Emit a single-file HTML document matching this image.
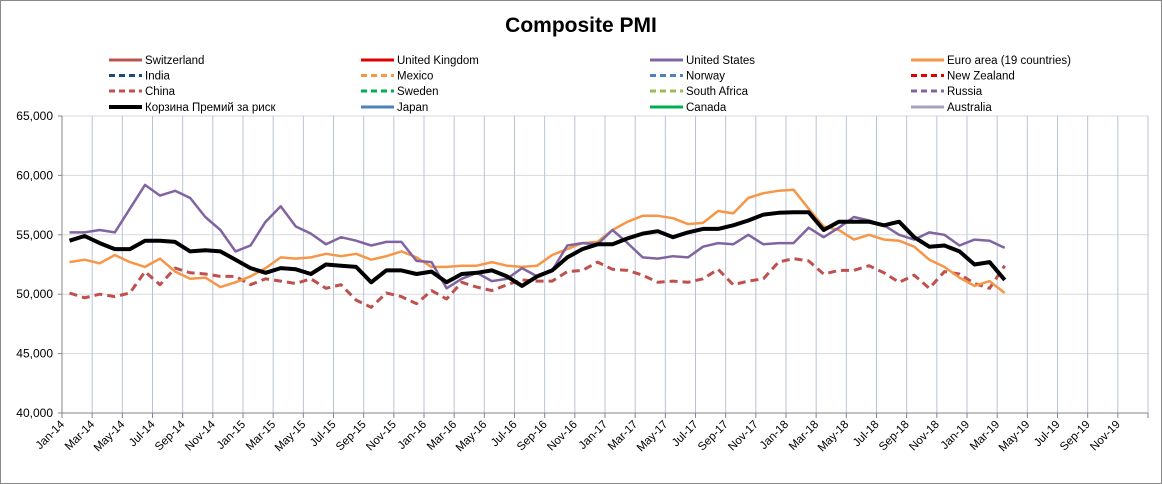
<!DOCTYPE html>
<html><head><meta charset="utf-8"><style>
html,body{margin:0;padding:0;background:#fff}
svg{display:block;font-family:"Liberation Sans","Noto Sans CJK JP",sans-serif}
</style></head><body>
<svg id="chart" width="1162" height="484" viewBox="0 0 1162 484">
<rect x="0.5" y="0.5" width="1161" height="483" fill="#fff" stroke="#888"/>
<text x="581" y="32" text-anchor="middle" font-size="21" font-weight="bold" fill="#000">Composite PMI</text>
<g id="grid"></g>
<g id="axes"></g>
<g id="series"></g>
<g id="legend"></g>
</svg>
<script>
const months = ["Jan","Feb","Mar","Apr","May","Jun","Jul","Aug","Sep","Oct","Nov","Dec"];
const years = ["14","15","16","17","18","19"];
const yTicks = [40000,45000,50000,55000,60000,65000];
const usValues = [55.2,55.2,55.4,55.2,57.2,59.2,58.3,58.7,58.1,56.5,55.4,53.6,54.1,56.1,57.4,55.7,55.1,54.2,54.8,54.5,54.1,54.4,54.4,52.8,52.7,50.5,51.3,51.8,51.1,51.3,52.2,51.5,52.0,54.1,54.3,54.2,55.4,54.3,53.1,53.0,53.2,53.1,54.0,54.3,54.2,55.0,54.2,54.3,54.3,55.6,54.8,55.6,56.5,56.2,55.8,55.0,54.6,55.2,55.0,54.1,54.6,54.5,53.9];
const basketValues = [54.5,54.9,54.3,53.8,53.8,54.5,54.5,54.4,53.6,53.7,53.6,52.9,52.2,51.8,52.2,52.1,51.7,52.5,52.4,52.3,51.0,52.0,52.0,51.7,51.9,51.0,51.7,51.8,52.0,51.5,50.7,51.5,52.0,53.1,53.8,54.2,54.2,54.7,55.1,55.3,54.8,55.2,55.5,55.5,55.8,56.2,56.7,56.85,56.9,56.9,55.4,56.1,56.1,56.1,55.8,56.1,54.8,54.0,54.1,53.6,52.5,52.7,51.2];
const euroValues = [52.7,52.9,52.6,53.3,52.7,52.3,53.0,51.9,51.3,51.4,50.6,51.0,51.5,52.2,53.1,53.0,53.1,53.4,53.2,53.4,52.9,53.2,53.6,53.1,52.3,52.3,52.4,52.4,52.7,52.4,52.3,52.4,53.3,53.8,54.3,54.4,55.4,56.1,56.6,56.6,56.4,55.9,56.0,57.0,56.8,58.1,58.5,58.7,58.8,57.2,55.7,55.4,54.6,55.0,54.6,54.5,54.0,52.9,52.3,51.4,50.7,51.1,50.1];
const chinaValues = [50.1,49.7,50.0,49.8,50.1,51.9,50.8,52.2,51.8,51.7,51.5,51.5,50.8,51.3,51.1,50.9,51.3,50.5,50.8,49.5,48.9,50.1,49.8,49.2,50.3,49.6,51.0,50.6,50.3,50.8,51.2,51.1,51.1,51.9,52.0,52.7,52.1,52.0,51.6,51.0,51.1,51.0,51.3,52.1,50.8,51.1,51.3,52.7,53.0,52.8,51.7,52.0,52.0,52.4,51.8,51.0,51.6,50.5,51.9,51.7,50.9,50.5,52.4];

const L=62,R=1148,T=116,B=413,N=72;
const cw=(R-L)/N;
const xAt=i=>L+cw*(i+0.5);
const yAt=v=>B-(v-40000)/25000*(B-T);
const NS="http://www.w3.org/2000/svg";
function mk(tag,attrs,parent){const e=document.createElementNS(NS,tag);for(const k in attrs)e.setAttribute(k,attrs[k]);parent.appendChild(e);return e;}
const grid=document.getElementById('grid'),axes=document.getElementById('axes'),ser=document.getElementById('series'),leg=document.getElementById('legend');

yTicks.forEach(v=>{
  const y=yAt(v);
  if(v>40000){const g=mk('line',{x1:L,x2:R,y1:y,y2:y,stroke:'#d9d9d9','stroke-width':1},grid);
  
  }
  const t=mk('text',{x:L-9,y:y+4,'text-anchor':'end','font-size':12,fill:'#000'},axes);
  t.textContent=v.toLocaleString('en-US');
  
  
  mk('line',{x1:L-4,x2:L,y1:y,y2:y,stroke:'#868686'},axes);
});
for(let k=0;k<=N;k+=2){
  const x=L+cw*k;
  if(k>0){const g=mk('line',{x1:x,x2:x,y1:T,y2:B,stroke:'#b9c3d6','stroke-width':1},grid);
  
  }
  mk('line',{x1:x,x2:x,y1:B,y2:B+5,stroke:'#868686'},axes);
  if(k<N){
    const lbl=months[k%12]+'-'+years[Math.floor(k/12)];
    const t=mk('text',{x:x+3,y:B+12,'text-anchor':'end','font-size':11.5,fill:'#000',transform:`rotate(-45 ${x+3} ${B+12})`},axes);
    t.textContent=lbl;
    
    
  }
}
mk('line',{x1:L,x2:L,y1:T,y2:B,stroke:'#868686'},axes);
mk('line',{x1:L,x2:R,y1:B,y2:B,stroke:'#868686'},axes);

function draw(vals,color,w,dash,name){
  const p=mk('polyline',{points:vals.map((v,i)=>xAt(i).toFixed(1)+','+yAt(v*1000).toFixed(1)).join(' '),fill:'none',stroke:color,'stroke-width':w,'stroke-linejoin':'round'},ser);
  if(dash)p.setAttribute('stroke-dasharray',dash);
  
  
}
draw(chinaValues,'#c0504d',3,'8,5','china-line');
draw(euroValues,'#f79646',2.5,null,'euro-area-line');
draw(usValues,'#8064a2',2.5,null,'united-states-line');
draw(basketValues,'#000',4,null,'risk-premium-basket-line');

const legendEntries=[
 ['Switzerland','#b85450',null,109,60,3],['United Kingdom','#e00000',null,361,60,3],['United States','#8064a2',null,650,60,3],['Euro area (19 countries)','#f79646',null,911,60,3],
 ['India','#1f497d','6,4',109,75.5,3],['Mexico','#f79646','6,4',361,75.5,3],['Norway','#4f81bd','6,4',650,75.5,3],['New Zealand','#e00000','6,4',911,75.5,3],
 ['China','#c0504d','6,4',109,91,3],['Sweden','#00b050','6,4',361,91,3],['South Africa','#9bbb59','6,4',650,91,3],['Russia','#8064a2','6,4',911,91,3],
 ['Корзина Премий за риск','#000',null,109,107,4],['Japan','#4f81bd',null,361,107,3],['Canada','#00b050',null,650,107,3],['Australia','#a9a0c0',null,911,107,3]
];
legendEntries.forEach(e=>{
  const g=mk('g',{},leg);
  
  
  const l=mk('line',{x1:e[3],x2:e[3]+33,y1:e[4],y2:e[4],stroke:e[1],'stroke-width':e[5]},g);
  if(e[2])l.setAttribute('stroke-dasharray',e[2]);
  const t=mk('text',{x:e[3]+36,y:e[4]+4,'font-size':11.5,fill:'#000'},g);
  t.textContent=e[0];
});
</script>
</body></html>
